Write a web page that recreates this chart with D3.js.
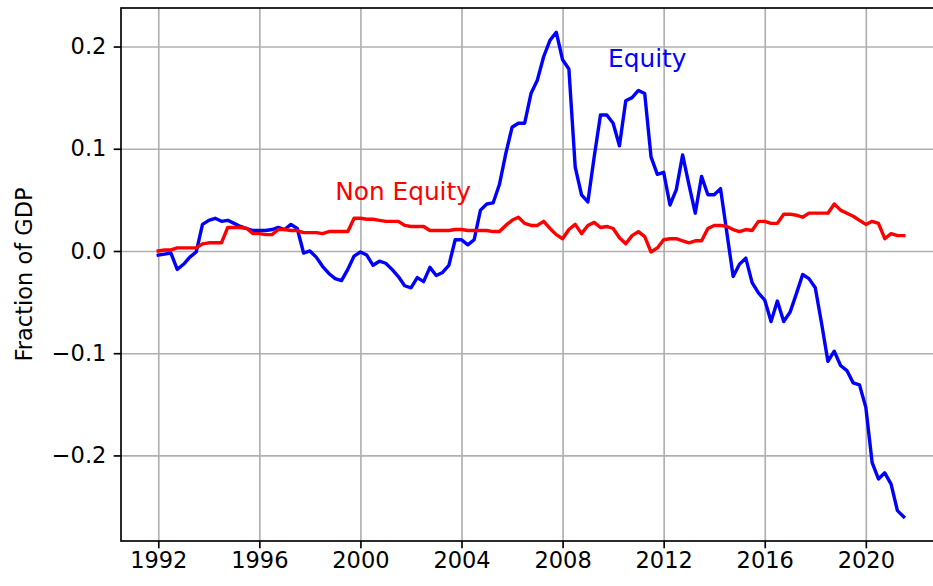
<!DOCTYPE html>
<html>
<head>
	<meta charset="utf-8">
	<title>Equity vs Non Equity</title>
	<script src="https://d3js.org/d3.v7.min.js"></script>
	<style type="text/css">
		body { margin:0; background:#fff; }
		svg { display:block; font-family:"DejaVu Sans", sans-serif; }
		.axis text { font-size:22.5px; fill:#000; font-family:"DejaVu Sans", sans-serif; }
		.axis path, .axis line { stroke:#000; stroke-width:1.67px; }
		.grid line { stroke:#b0b0b0; stroke-width:1.67px; }
		.grid path { display:none; }
	</style>
</head>
<body>
	<script type="text/javascript">

		// quarterly series, first point is 1992 Q1
		var startYear = 1992;
		var step = 0.25;

		var equity = [
			-0.004, -0.003, -0.002, -0.018,
			-0.013, -0.006, -0.001, 0.026,
			0.030, 0.032, 0.029, 0.030,
			0.027, 0.024, 0.022, 0.020,
			0.020, 0.020, 0.021, 0.023,
			0.021, 0.026, 0.022, -0.002,
			0.000, -0.006, -0.015, -0.022,
			-0.027, -0.029, -0.018, -0.005,
			-0.001, -0.004, -0.014, -0.010,
			-0.012, -0.018, -0.025, -0.034,
			-0.036, -0.026, -0.030, -0.016,
			-0.024, -0.021, -0.014, 0.011,
			0.011, 0.006, 0.011, 0.040,
			0.046, 0.047, 0.065, 0.095,
			0.121, 0.125, 0.125, 0.154,
			0.167, 0.190, 0.206, 0.214,
			0.187, 0.178, 0.082, 0.055,
			0.048, 0.092, 0.133, 0.133,
			0.125, 0.103, 0.147, 0.150,
			0.157, 0.154, 0.092, 0.075,
			0.077, 0.045, 0.060, 0.094,
			0.065, 0.037, 0.073, 0.055,
			0.055, 0.061, 0.018, -0.025,
			-0.013, -0.007, -0.031, -0.041,
			-0.048, -0.069, -0.049, -0.069,
			-0.060, -0.042, -0.023, -0.027,
			-0.036, -0.071, -0.108, -0.098,
			-0.112, -0.117, -0.129, -0.131,
			-0.153, -0.207, -0.223, -0.217,
			-0.228, -0.254, -0.260
		];

		var nonEquity = [
			0.000, 0.001, 0.001, 0.003,
			0.003, 0.003, 0.003, 0.007,
			0.008, 0.008, 0.008, 0.023,
			0.023, 0.023, 0.022, 0.017,
			0.017, 0.016, 0.016, 0.021,
			0.021, 0.020, 0.020, 0.018,
			0.018, 0.018, 0.017, 0.019,
			0.019, 0.019, 0.019, 0.032,
			0.032, 0.031, 0.031, 0.030,
			0.029, 0.029, 0.029, 0.025,
			0.024, 0.024, 0.024, 0.020,
			0.020, 0.020, 0.020, 0.021,
			0.021, 0.020, 0.020, 0.020,
			0.020, 0.019, 0.019, 0.025,
			0.030, 0.033, 0.027, 0.025,
			0.025, 0.029, 0.022, 0.016,
			0.012, 0.021, 0.026, 0.017,
			0.025, 0.028, 0.023, 0.024,
			0.022, 0.013, 0.007, 0.015,
			0.019, 0.014, -0.001, 0.003,
			0.011, 0.012, 0.012, 0.010,
			0.008, 0.010, 0.010, 0.022,
			0.025, 0.025, 0.024, 0.021,
			0.019, 0.021, 0.020, 0.029,
			0.029, 0.027, 0.027, 0.036,
			0.036, 0.035, 0.033, 0.037,
			0.037, 0.037, 0.037, 0.046,
			0.040, 0.037, 0.034, 0.030,
			0.026, 0.029, 0.027, 0.012,
			0.017, 0.015, 0.015
		];

		var xTicks = [1992, 1996, 2000, 2004, 2008, 2012, 2016, 2020];
		var yTicks = [-0.2, -0.1, 0.0, 0.1, 0.2];

		var series = [
			{name:"Equity", values:equity, color:"#0000ff", labelX:2009.8, labelY:0.18},
			{name:"Non Equity", values:nonEquity, color:"#ff0000", labelX:1999, labelY:0.05}
		];

		var w = 933, h = 586;
		var margin = {top:8, right:-8, bottom:45, left:121};

		var svg = d3.select("body").append("svg")
			.attr("width", w)
			.attr("height", h);

		// matplotlib style 5% padding around the data
		var n = equity.length;
		var xMin = startYear, xMax = startYear + (n - 1) * step;
		var xPad = (xMax - xMin) * 0.05;
		var allVals = equity.concat(nonEquity);
		var yMin = d3.min(allVals), yMax = d3.max(allVals);
		var yPad = (yMax - yMin) * 0.05;

		var x = d3.scaleLinear()
			.domain([xMin - xPad, xMax + xPad])
			.range([margin.left, w - margin.right]);
		var y = d3.scaleLinear()
			.domain([yMin - yPad, yMax + yPad])
			.range([h - margin.bottom, margin.top]);

		// gridlines
		svg.append("g")
			.attr("class", "grid")
			.attr("transform", "translate(0," + (h - margin.bottom) + ")")
			.call(d3.axisBottom(x).tickValues(xTicks).tickSize(-(h - margin.top - margin.bottom)).tickFormat(""));
		svg.append("g")
			.attr("class", "grid")
			.attr("transform", "translate(" + margin.left + ",0)")
			.call(d3.axisLeft(y).tickValues(yTicks).tickSize(-(w - margin.left - margin.right)).tickFormat(""));

		// lines
		var line = d3.line()
			.x(function(d, i){ return x(startYear + i * step); })
			.y(function(d){ return y(d); });

		series.forEach(function(s){
			svg.append("path")
				.datum(s.values)
				.attr("fill", "none")
				.attr("stroke", s.color)
				.attr("stroke-width", 3.4)
				.attr("stroke-linejoin", "round")
				.attr("stroke-linecap", "square")
				.attr("d", line);

			svg.append("text")
				.attr("x", x(s.labelX))
				.attr("y", y(s.labelY))
				.attr("fill", s.color)
				.style("font-size", "24.8px")
				.text(s.name);
		});

		// frame
		svg.append("rect")
			.attr("x", margin.left)
			.attr("y", margin.top)
			.attr("width", w - margin.left - margin.right)
			.attr("height", h - margin.top - margin.bottom)
			.attr("fill", "none")
			.attr("stroke", "#000")
			.attr("stroke-width", 1.67);

		// axes
		var xAxis = svg.append("g")
			.attr("class", "axis")
			.attr("transform", "translate(0," + (h - margin.bottom) + ")")
			.call(d3.axisBottom(x).tickValues(xTicks).tickSize(7.3).tickPadding(4).tickFormat(d3.format("d")));
		xAxis.select(".domain").remove();

		var yAxis = svg.append("g")
			.attr("class", "axis")
			.attr("transform", "translate(" + margin.left + ",0)")
			.call(d3.axisLeft(y).tickValues(yTicks).tickSize(7.3).tickPadding(7.3).tickFormat(d3.format(".1f")));
		yAxis.select(".domain").remove();

		svg.append("text")
			.attr("transform", "translate(32," + ((margin.top + h - margin.bottom) / 2) + ") rotate(-90)")
			.attr("text-anchor", "middle")
			.style("font-size", "22.5px")
			.text("Fraction of GDP");

	</script>
</body>
</html>
